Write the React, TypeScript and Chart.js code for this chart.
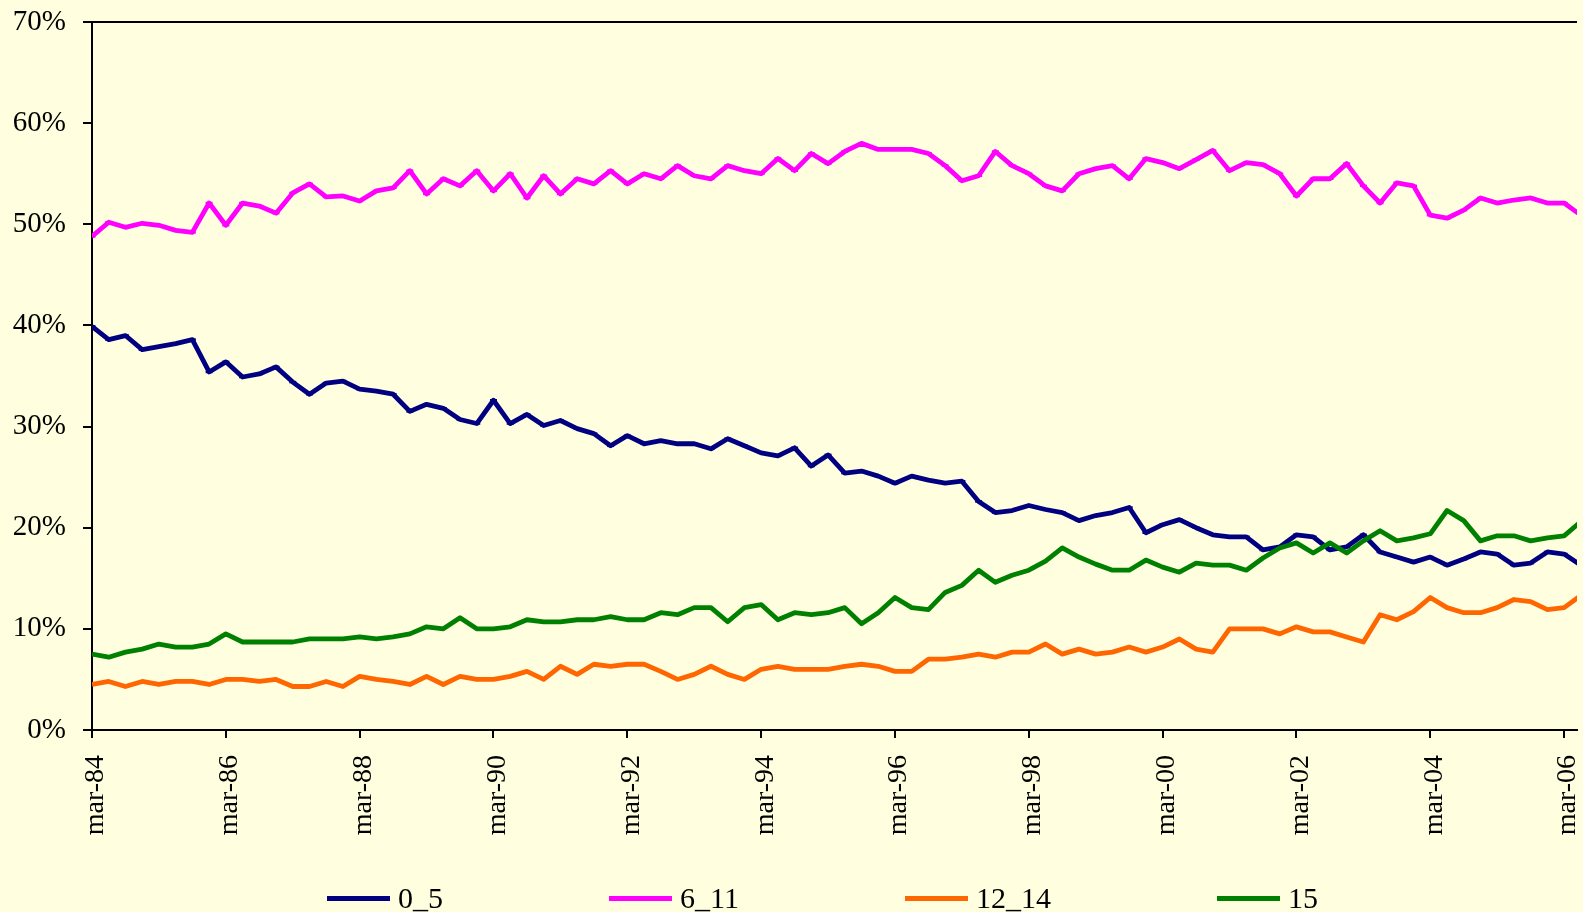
import React, { useEffect, useRef } from "react";
import { Chart, registerables } from "chart.js";

Chart.register(...registerables);

const seriesNames = ["0_5", "6_11", "12_14", "15"];
const seriesColors = ["#000080", "#FF00FF", "#FF6600", "#008000"];

const tickLabels = [
  "mar-84", "mar-86", "mar-88", "mar-90", "mar-92", "mar-94",
  "mar-96", "mar-98", "mar-00", "mar-02", "mar-04", "mar-06",
];

// quarterly shares (%), mar-84 onward
const ages0to5 = [
  39.9, 38.6, 39.0, 37.6, 37.9, 38.2, 38.6, 35.4, 36.4, 34.9,
  35.2, 35.9, 34.4, 33.2, 34.3, 34.5, 33.7, 33.5, 33.2, 31.5,
  32.2, 31.8, 30.7, 30.3, 32.6, 30.3, 31.2, 30.1, 30.6, 29.8,
  29.3, 28.1, 29.1, 28.3, 28.6, 28.3, 28.3, 27.8, 28.8, 28.1,
  27.4, 27.1, 27.9, 26.1, 27.2, 25.4, 25.6, 25.1, 24.4, 25.1,
  24.7, 24.4, 24.6, 22.6, 21.5, 21.7, 22.2, 21.8, 21.5, 20.7,
  21.2, 21.5, 22.0, 19.5, 20.3, 20.8, 20.0, 19.3, 19.1, 19.1,
  17.8, 18.1, 19.3, 19.1, 17.8, 18.1, 19.3, 17.6, 17.1, 16.6,
  17.1, 16.3, 16.9, 17.6, 17.4, 16.3, 16.5, 17.6, 17.4, 16.3,
];

const ages6to11 = [
  48.8, 50.2, 49.7, 50.1, 49.9, 49.4, 49.2, 52.1, 49.9, 52.1,
  51.8, 51.1, 53.1, 54.0, 52.7, 52.8, 52.3, 53.3, 53.6, 55.3,
  53.0, 54.5, 53.8, 55.3, 53.3, 55.0, 52.6, 54.8, 53.0, 54.5,
  54.0, 55.3, 54.0, 55.0, 54.5, 55.8, 54.8, 54.5, 55.8, 55.3,
  55.0, 56.5, 55.3, 57.0, 56.0, 57.2, 58.0, 57.4, 57.4, 57.4,
  57.0, 55.8, 54.3, 54.8, 57.2, 55.8, 55.0, 53.8, 53.3, 55.0,
  55.5, 55.8, 54.5, 56.5, 56.1, 55.5, 56.4, 57.3, 55.3, 56.1,
  55.9, 55.0, 52.8, 54.5, 54.5, 56.0, 53.8, 52.1, 54.1, 53.8,
  50.9, 50.6, 51.4, 52.6, 52.1, 52.4, 52.6, 52.1, 52.1, 50.9,
];

const ages12to14 = [
  4.5, 4.8, 4.3, 4.8, 4.5, 4.8, 4.8, 4.5, 5.0, 5.0,
  4.8, 5.0, 4.3, 4.3, 4.8, 4.3, 5.3, 5.0, 4.8, 4.5,
  5.3, 4.5, 5.3, 5.0, 5.0, 5.3, 5.8, 5.0, 6.3, 5.5,
  6.5, 6.3, 6.5, 6.5, 5.8, 5.0, 5.5, 6.3, 5.5, 5.0,
  6.0, 6.3, 6.0, 6.0, 6.0, 6.3, 6.5, 6.3, 5.8, 5.8,
  7.0, 7.0, 7.2, 7.5, 7.2, 7.7, 7.7, 8.5, 7.5, 8.0,
  7.5, 7.7, 8.2, 7.7, 8.2, 9.0, 8.0, 7.7, 10.0, 10.0,
  10.0, 9.5, 10.2, 9.7, 9.7, 9.2, 8.7, 11.4, 10.9, 11.7,
  13.1, 12.1, 11.6, 11.6, 12.1, 12.9, 12.7, 11.9, 12.1, 13.3,
];

const ages15 = [
  7.5, 7.2, 7.7, 8.0, 8.5, 8.2, 8.2, 8.5, 9.5, 8.7,
  8.7, 8.7, 8.7, 9.0, 9.0, 9.0, 9.2, 9.0, 9.2, 9.5,
  10.2, 10.0, 11.1, 10.0, 10.0, 10.2, 10.9, 10.7, 10.7, 10.9,
  10.9, 11.2, 10.9, 10.9, 11.6, 11.4, 12.1, 12.1, 10.7, 12.1,
  12.4, 10.9, 11.6, 11.4, 11.6, 12.1, 10.5, 11.6, 13.1, 12.1,
  11.9, 13.6, 14.3, 15.8, 14.6, 15.3, 15.8, 16.7, 18.0, 17.1,
  16.4, 15.8, 15.8, 16.8, 16.1, 15.6, 16.5, 16.3, 16.3, 15.8,
  17.0, 18.0, 18.5, 17.5, 18.5, 17.5, 18.7, 19.7, 18.7, 19.0,
  19.4, 21.7, 20.7, 18.7, 19.2, 19.2, 18.7, 19.0, 19.2, 20.6,
];

const yTickValues = [0, 10, 20, 30, 40, 50, 60, 70];

const FONT = "'Liberation Serif', 'Times New Roman', serif";
const BG = "#FFFFE0";
const X_MAX = 88.77; // visible end of the (cropped) time axis, in quarters

const topBorder = {
  id: "topBorder",
  afterDraw(chart: any) {
    const { ctx, chartArea } = chart;
    ctx.save();
    ctx.strokeStyle = "#000";
    ctx.lineWidth = 2;
    ctx.beginPath();
    ctx.moveTo(chartArea.left - 1, chartArea.top);
    ctx.lineTo(chartArea.right, chartArea.top);
    ctx.stroke();
    ctx.restore();
  },
};

export default function App() {
  const ref = useRef<HTMLCanvasElement>(null);

  useEffect(() => {
    const all = [ages0to5, ages6to11, ages12to14, ages15];
    const toPoints = (arr: number[]) => arr.map((v, i) => ({ x: i, y: v }));
    const chart = new Chart(ref.current as HTMLCanvasElement, {
      type: "line",
      data: {
        datasets: all.map((arr, k) => ({
          label: seriesNames[k],
          data: toPoints(arr),
          borderColor: seriesColors[k],
          backgroundColor: seriesColors[k],
          borderWidth: 4.8,
          pointStyle: "line",
          pointRadius: k < 2 ? 3.5 : 0,
          pointBorderWidth: 2.5,
          pointBorderColor: seriesColors[k],
          pointHoverRadius: 0,
          tension: 0,
          borderJoinStyle: "round",
          order: 4 - k,
        })),
      },
      options: {
        animation: false,
        responsive: true,
        maintainAspectRatio: false,
        layout: { padding: { top: 22, left: 0, right: 0, bottom: 0 } },
        plugins: {
          legend: { display: false },
          tooltip: { enabled: false },
        },
        events: [],
        scales: {
          x: {
            type: "linear",
            min: 0,
            max: X_MAX,
            grid: {
              drawOnChartArea: false,
              color: "#000",
              lineWidth: 2,
              tickLength: 8,
            },
            border: { display: true, color: "#000", width: 2 },
            ticks: {
              stepSize: 8,
              includeBounds: false,
              autoSkip: false,
              minRotation: 90,
              maxRotation: 90,
              padding: 17,
              labelOffset: 4,
              color: "#000",
              font: { family: FONT, size: 28 },
              callback: (v: any) => {
                const n = Number(v);
                return n % 8 === 0 ? tickLabels[n / 8] ?? "" : "";
              },
            },
            afterFit: (s: any) => {
              s.height = 182;
              s.paddingLeft = 0;
              s.paddingRight = 0;
            },
          },
          y: {
            min: 0,
            max: 70,
            grid: {
              drawOnChartArea: false,
              color: "#000",
              lineWidth: 2,
              tickLength: 9,
            },
            border: { display: true, color: "#000", width: 2 },
            afterBuildTicks: (s: any) => {
              s.ticks = yTickValues.map((v) => ({ value: v }));
            },
            ticks: {
              padding: 17,
              color: "#000",
              font: { family: FONT, size: 29 },
              callback: (v: any) => `${v}%`,
            },
            afterFit: (s: any) => {
              s.width = 92;
              s.paddingTop = 0;
              s.paddingBottom = 0;
            },
          },
        },
      },
      plugins: [topBorder],
    });
    return () => chart.destroy();
  }, []);

  return (
    <div
      style={{
        position: "fixed",
        left: 0,
        top: 0,
        width: 1583,
        height: 912,
        background: BG,
        overflow: "hidden",
      }}
    >
      <div style={{ position: "absolute", left: 0, top: 0, width: 1583, height: 912 }}>
        <canvas ref={ref} />
      </div>
      <div
        style={{
          position: "absolute",
          left: 327,
          top: 883,
          height: 30,
          display: "flex",
          alignItems: "center",
          gap: 166,
          fontFamily: FONT,
          fontSize: 30,
          lineHeight: "30px",
          color: "#000",
          whiteSpace: "nowrap",
        }}
      >
        {seriesNames.map((n, k) => (
          <div key={n} style={{ display: "flex", alignItems: "center" }}>
            <span
              style={{
                display: "inline-block",
                width: 63,
                height: 5,
                background: seriesColors[k],
                marginRight: 8,
              }}
            />
            <span>{n}</span>
          </div>
        ))}
      </div>
    </div>
  );
}
